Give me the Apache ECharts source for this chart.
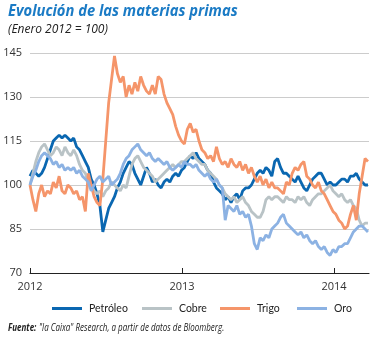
<!DOCTYPE html>
<html><head><meta charset="utf-8">
<script src="https://cdn.jsdelivr.net/npm/echarts@6/dist/echarts.min.js"></script>
<style>html,body{margin:0;padding:0;background:#fff}#c{width:382px;height:338px}</style>
</head><body><div id="c"></div>
<script>
// Weekly observations starting the first week of January 2012
const startYear = 2012;
const weekStepYears = 7 / 365.25;
const xTickLabels = ['2012', '2013', '2014'];
const yTicks = [70, 85, 100, 115, 130, 145];
const seriesNames = ['Petróleo', 'Cobre', 'Trigo', 'Oro'];

const petroleo = [103,105,104,103,104, 106,109,112,115,116, 117,116,117,116,115, 116,113,112,110,108,
  106,102,100,97,93, 84,88,92,94,96, 99,101,104,106,108, 107,104,102,100,103,
  106,104,101,102,100, 99,101,102,101,103, 104,103,105,106,108, 110,109,111,109,108,
  107,105,104,101,99, 98,97,95,96,94, 96,97,95,98,99, 99,100,102,104,105,
  104,106,105,103,108, 109,106,104,104,103, 102,101,103,101,99, 98,100,102,103,104,
  104,102,100,101,100, 100,101,102,102,101, 103,103,104,102,101, 100,100];

const cobre = [100,104,108,111,113, 114,112,110,111,113, 112,110,113,111,110, 112,110,107,105,104,
  101,100,98,97,98, 96,98,99,101,100, 99,98,100,99,103, 107,109,110,108,106,
  105,104,103,101,102, 103,104,105,106,107, 106,107,108,108,109, 110,111,109,108,107,
  107,105,104,103,102, 100,99,97,96,95, 96,94,95,96,94, 93,91,90,89,89,
  91,95,96,95,96, 96,95,94,96,95, 95,94,96,95,96, 94,93,95,96,97,
  97,98,99,100,98, 97,96,97,95,94, 95,93,92,88,86, 87,87];

const trigo = [100,95,91,97,100, 96,98,97,101,99, 103,98,97,100,99, 97,98,95,96,91,
  104,100,96,94,93, 102,115,128,136,144, 138,135,137,130,134, 131,135,132,137,134,
  132,131,134,131,137, 136,131,128,126,124, 120,117,115,114,119, 121,118,119,115,112,
  111,109,110,108,113, 109,107,108,106,109, 107,106,108,105,107, 104,106,103,101,103,
  100,102,99,101,99, 99,98,97,101,100, 104,106,105,107,108, 103,102,100,99,101,
  98,97,95,93,91, 90,88,87,85,86, 90,93,88,97,103, 109,108];

const oro = [100,103,105,108,110, 111,110,109,107,108, 106,107,105,106,105, 106,104,105,103,102,
  101,98,100,102,103, 101,102,103,100,101, 102,104,107,109,110, 112,113,114,112,111,
  110,111,109,108,109, 108,107,108,106,105, 106,107,106,108,107, 107,106,107,105,104,
  103,104,102,101,102, 100,99,88,93,92, 91,93,90,91,89, 90,86,80,78,82,
  81,83,82,85,86, 87,89,90,87,86, 85,84,83,84,82, 83,81,80,81,79,
  78,79,77,76,78, 77,79,79,80,80, 82,84,85,86,86, 85,84];

const colors = ['#0a67b1', '#b9c3c6', '#f5956a', '#8cb2e3'];
const allValues = [petroleo, cobre, trigo, oro];
const legendLefts = [47, 137, 215, 292];

function toPoints(vals) {
  return vals.map((v, i) => [startYear + i * weekStepYears, v]);
}

const chart = echarts.init(document.getElementById('c'), null, {renderer: 'canvas'});
const fontFamily = "'Open Sans', 'Noto Sans', sans-serif";
const legendFamily = "Lato, 'Liberation Sans', sans-serif";

chart.setOption({
  animation: false,
  color: colors,
  textStyle: {fontFamily: fontFamily},
  grid: {left: 30, right: 13, top: 53, bottom: 65, containLabel: false},
  xAxis: {
    type: 'value',
    min: 2012, max: 2014.23, interval: 1,
    axisLine: {show: true, lineStyle: {color: '#222', width: 1.2}},
    axisTick: {show: true, inside: true, length: 5, lineStyle: {color: '#222', width: 1}, customValues: xTickLabels.map(Number)},
    axisLabel: {color: '#333', fontSize: 11, margin: 8, fontFamily: fontFamily,
      customValues: xTickLabels.map(Number), formatter: v => String(Math.round(v))},
    splitLine: {show: false}
  },
  yAxis: {
    type: 'value',
    min: yTicks[0], max: yTicks[yTicks.length - 1], interval: 15,
    axisLine: {show: false}, axisTick: {show: false},
    axisLabel: {color: '#333', fontSize: 11, margin: 8, fontFamily: fontFamily},
    splitLine: {show: true, lineStyle: {color: '#cccccc', width: 1}}
  },
  legend: seriesNames.map((name, k) => ({
    left: legendLefts[k], top: 298,
    icon: 'rect', itemWidth: 30, itemHeight: 3,
    textStyle: {color: '#222', fontSize: 10.5, fontFamily: legendFamily, padding: [0, 0, 0, 2]},
    data: [name]
  })),
  series: seriesNames.map((name, k) => ({
    name: name, type: 'line', showSymbol: false, symbol: 'none',
    data: toPoints(allValues[k]),
    lineStyle: {width: 2.8, color: colors[k]},
    itemStyle: {color: colors[k]}
  })),
  graphic: [
    {type: 'text', left: 8, top: 3, scaleX: 0.92, style: {text: 'Evolución de las materias primas',
      font: "italic bold 16px 'Open Sans', sans-serif", fill: '#1b7bc5'}},
    {type: 'text', left: 8, top: 24, style: {text: '(Enero 2012 = 100)',
      font: "italic 12px 'Open Sans', sans-serif", fill: '#222'}},
    {type: 'text', left: 8, top: 322, scaleX: 0.8, style: {
      text: '{b|Fuente:} {r|"la Caixa" Research, a partir de datos de Bloomberg.}',
      rich: {
        b: {font: "italic bold 10px 'Open Sans', sans-serif", fill: '#222'},
        r: {font: "italic 10px 'Open Sans', sans-serif", fill: '#222'}
      }}}
  ]
});
</script></body></html>
